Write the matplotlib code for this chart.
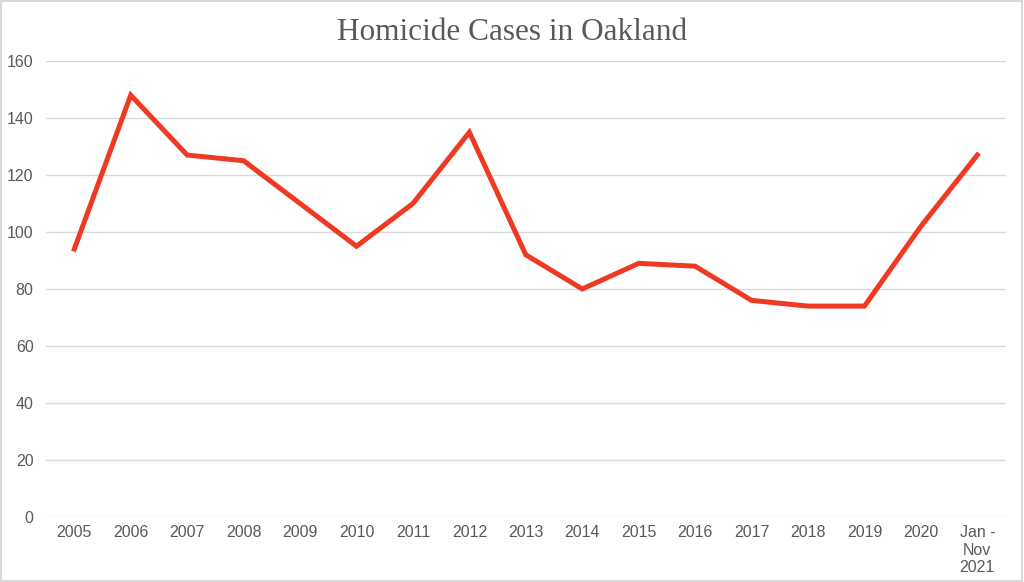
import matplotlib
matplotlib.use('Agg')
import matplotlib.pyplot as plt
from matplotlib.patches import Rectangle

years = ['2005', '2006', '2007', '2008', '2009', '2010', '2011', '2012', '2013',
         '2014', '2015', '2016', '2017', '2018', '2019', '2020', 'Jan -\nNov\n2021']
cases = [94, 148, 127, 125, 110, 95, 110, 135, 92, 80, 89, 88, 76, 74, 74, 102, 127]
y_ticks = [0, 20, 40, 60, 80, 100, 120, 140, 160]

fig = plt.figure(figsize=(10.24, 5.82), dpi=100)
ax = fig.add_axes([0.045, 0.1117, 0.937, 0.7835])

x = list(range(len(years)))
ax.plot(x, cases, color='#EE3A23', linewidth=3.6, solid_joinstyle='miter', zorder=3)

ax.set_xlim(-0.5, len(years) - 0.5)
ax.set_ylim(0, 160)
ax.set_yticks(y_ticks)
ax.set_xticks(x)
ax.set_xticklabels(years, linespacing=1.2, va='top')
ax.grid(axis='y', color='#D9D9D9', linewidth=1)
ax.set_axisbelow(True)
for s in ax.spines.values():
    s.set_visible(False)
ax.tick_params(axis='both', length=0, colors='#595959', labelsize=11.5,
               labelfontfamily='Liberation Sans')
ax.tick_params(axis='y', pad=9)
ax.tick_params(axis='x', pad=6)

fig.text(0.5, 0.944, 'Homicide Cases in Oakland', ha='center', va='center',
         fontsize=22.5, color='#595959', family='Liberation Serif')

fig.patches.append(Rectangle((0.001, 0.002), 0.997, 0.996, transform=fig.transFigure,
                             fill=False, edgecolor='#D9D9D9', linewidth=1.5))

fig.savefig('out.png', dpi=100)
